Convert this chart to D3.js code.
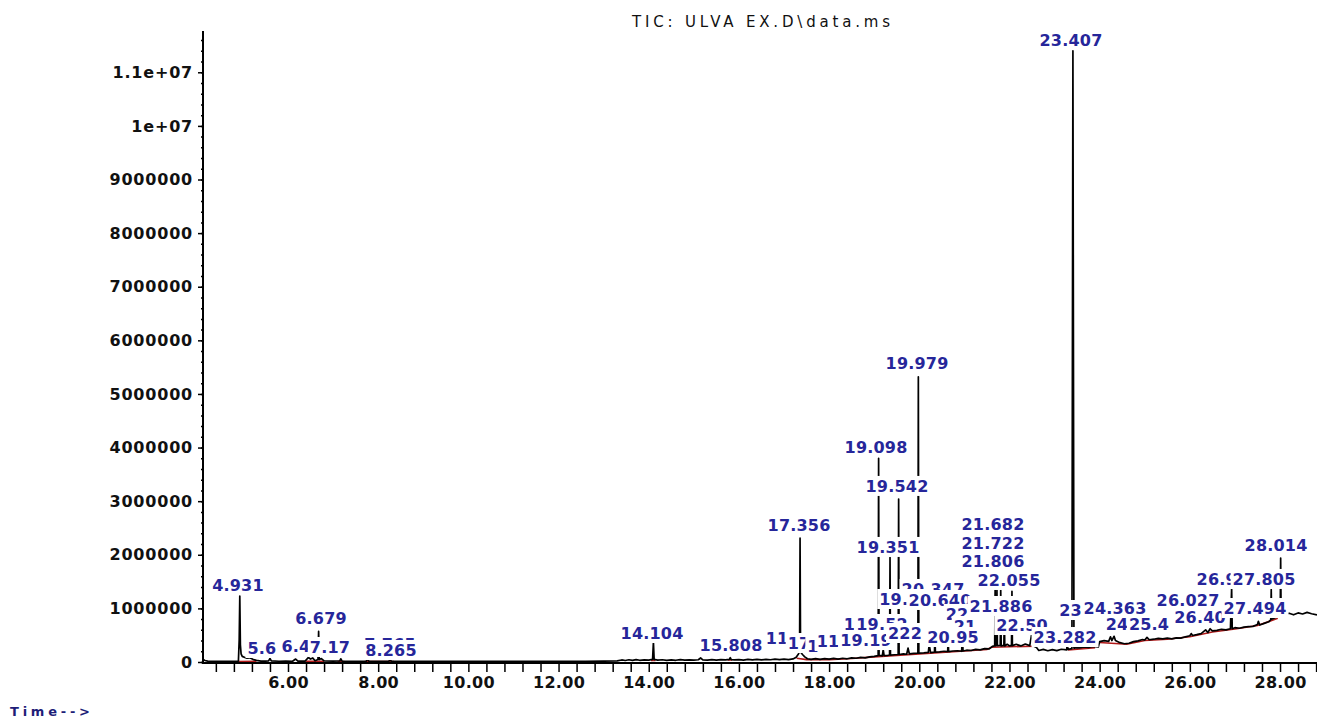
<!DOCTYPE html>
<html><head><meta charset="utf-8">
<script src="https://cdn.jsdelivr.net/npm/d3@7"></script>
<style>body{margin:0;background:#fff}svg{display:block}</style>
</head><body>
<svg id="c" width="1317" height="718"></svg>
<script>
// Chromatogram trace: [retention time (min), abundance (thousand counts)]
const traceK = [[4.12,45],[4.16,28],[4.22,16],[4.35,12],[4.5,10],[4.65,12],[4.8,10],[4.9,14],[4.918,420],[4.931,1230],[4.944,320],[4.96,150],[4.985,105],[5.03,90],[5.09,70],[5.15,78],[5.22,50],[5.3,30],[5.4,18],[5.5,15],[5.57,22],[5.6,65],[5.63,20],[5.8,14],[5.95,16],[6.1,14],[6.17,55],[6.22,15],[6.38,16],[6.45,85],[6.5,55],[6.55,75],[6.6,22],[6.665,45],[6.679,570],[6.692,45],[6.74,65],[6.8,20],[7.0,15],[7.15,20],[7.17,60],[7.2,16],[7.45,12],[7.74,18],[7.76,70],[7.79,15],[8.0,12],[8.24,15],[8.265,58],[8.29,13],[8.6,10],[9.0,13],[9.4,10],[9.8,12],[10.2,10],[10.6,12],[11.0,11],[11.4,13],[11.8,12],[12.2,14],[12.6,13],[13.0,16],[13.3,22],[13.4,38],[13.48,28],[13.56,42],[13.64,30],[13.72,45],[13.8,32],[13.9,40],[14.0,35],[14.085,48],[14.104,370],[14.12,48],[14.2,35],[14.3,42],[14.4,30],[14.5,40],[14.6,32],[14.7,45],[14.8,35],[14.9,40],[15.0,34],[15.1,42],[15.15,75],[15.2,40],[15.3,36],[15.4,44],[15.5,34],[15.6,46],[15.7,38],[15.79,48],[15.808,80],[15.83,45],[15.9,38],[16.0,46],[16.1,36],[16.2,50],[16.3,40],[16.4,48],[16.5,38],[16.6,50],[16.7,42],[16.8,52],[16.9,44],[17.0,55],[17.1,46],[17.2,58],[17.27,90],[17.32,150],[17.345,190],[17.356,2310],[17.367,185],[17.41,140],[17.46,95],[17.52,60],[17.6,48],[17.7,62],[17.8,50],[17.9,64],[18.0,52],[18.1,66],[18.2,55],[18.3,70],[18.4,60],[18.5,78],[18.6,70],[18.7,85],[18.8,78],[18.9,95],[19.0,105],[19.088,120],[19.098,3800],[19.108,125],[19.18,115],[19.2,230],[19.22,120],[19.3,125],[19.341,130],[19.351,1950],[19.361,130],[19.45,135],[19.532,140],[19.542,3040],[19.552,140],[19.65,150],[19.72,145],[19.75,260],[19.78,150],[19.88,160],[19.969,165],[19.979,5320],[19.99,165],[20.1,170],[20.2,180],[20.22,330],[20.25,175],[20.337,185],[20.347,500],[20.357,185],[20.45,190],[20.55,200],[20.63,195],[20.64,480],[20.65,195],[20.75,205],[20.85,210],[20.94,200],[20.955,520],[20.97,205],[21.05,220],[21.15,215],[21.25,235],[21.35,225],[21.45,250],[21.55,245],[21.62,290],[21.672,300],[21.682,1350],[21.692,300],[21.712,310],[21.722,1350],[21.732,305],[21.796,310],[21.806,1350],[21.816,300],[21.876,310],[21.886,880],[21.896,300],[21.95,330],[22.0,300],[22.045,310],[22.055,1320],[22.065,305],[22.15,330],[22.25,300],[22.35,335],[22.45,305],[22.5,560],[22.53,300],[22.6,270],[22.65,215],[22.75,235],[22.85,210],[22.95,232],[23.05,212],[23.15,238],[23.27,225],[23.282,420],[23.295,235],[23.385,250],[23.407,11400],[23.43,260],[23.445,260],[23.455,330],[23.465,265],[23.55,265],[23.65,280],[23.75,270],[23.85,290],[23.97,280],[24.0,380],[24.1,400],[24.2,385],[24.24,470],[24.27,400],[24.32,480],[24.35,400],[24.45,360],[24.55,340],[24.65,350],[24.75,380],[24.85,395],[24.95,420],[25.0,410],[25.05,460],[25.1,415],[25.2,425],[25.3,440],[25.4,430],[25.5,445],[25.6,430],[25.7,450],[25.8,445],[25.9,470],[26.0,490],[26.03,530],[26.06,495],[26.15,510],[26.25,530],[26.35,600],[26.4,550],[26.45,620],[26.5,580],[26.6,590],[26.7,610],[26.8,600],[26.9,620],[26.927,1380],[26.94,620],[27.0,640],[27.1,630],[27.2,650],[27.3,660],[27.4,665],[27.5,700],[27.52,760],[27.55,690],[27.65,720],[27.75,750],[27.795,790],[27.805,1350],[27.815,800],[27.9,830],[28.004,860],[28.014,1940],[28.024,870],[28.1,890],[28.2,910],[28.3,880],[28.4,915],[28.5,895],[28.6,925],[28.7,900],[28.82,880]];

// Integration baseline segments (red), null = gap
const baselineK = [[4.9,10],[5.3,15],null,[6.4,12],[6.8,12],null,[7.1,10],[7.25,10],null,[7.7,10],[8.35,10],null,[14.05,28],[14.15,28],null,[15.75,38],[15.85,38],null,[17.28,70],[17.5,45],[18.0,45],[18.5,65],[19.0,95],[19.5,120],[20.0,150],[20.5,180],[21.0,205],[21.5,235],[21.6,275],[22.0,285],[22.55,295],null,[23.3,225],[23.9,268],null,[24.0,365],[24.6,330],[25.0,400],[25.5,425],[26.0,470],[26.5,560],[27.0,615],[27.5,680],[27.95,815]];

// Peak retention-time labels: text, centre time (min), level (thousand counts)
const labelText  = ["4.931","5.6","6.4","7.17","6.679","7.765","8.265","14.104","15.808","11","17","1","11","17.356","19.098","19.542","19.351","19.979","20.347","19.72","20.640","19","19.52","22","21","19.19","222","20.95","21.682","21.722","21.806","22.055","21.886","22.50","23.282","23.45","24.363","24","25.4","26.027","26.40","27.494","26.927","27.805","28.014","23.407"];
const labelTime  = [4.891,5.423,6.177,6.931,6.732,8.262,8.284,14.073,15.825,16.845,17.333,17.643,17.976,17.333,19.041,19.506,19.307,19.950,20.305,19.684,20.460,18.575,19.174,20.837,21.014,18.819,19.684,20.748,21.635,21.635,21.635,21.990,21.813,22.279,23.232,23.676,24.341,24.385,25.095,25.960,26.226,27.446,26.847,27.646,27.912,23.365];
const labelLevel = [1437,261,299,280,821,336,224,541,317,448,354,299,392,2556,4011,3284,2146,5578,1362,1175,1157,709,709,896,672,410,541,466,2575,2220,1884,1530,1045,690,466,970,1007,709,709,1157,840,1007,1549,1549,2183,11605];

const yTickValues = [0,1000000,2000000,3000000,4000000,5000000,6000000,7000000,8000000,9000000,10000000,11000000];
const yTickLabels = ["0","1000000","2000000","3000000","4000000","5000000","6000000","7000000","8000000","9000000","1e+07","1.1e+07"];
const xTickValues = [6,8,10,12,14,16,18,20,22,24,26,28];
const xTickLabels = ["6.00","8.00","10.00","12.00","14.00","16.00","18.00","20.00","22.00","24.00","26.00","28.00"];

const titleText = "TIC: ULVA EX.D\\data.ms";
const xAxisText = "Time-->";

const svg = d3.select("#c");
const x = d3.scaleLinear().domain([4.115, 28.82]).range([203, 1317]);
const y = d3.scaleLinear().domain([0, 11770000]).range([662, 31]);

// trace layers
const line = d3.line().defined(d => d).x(d => x(d[0])).y(d => y(d[1] * 1000));
svg.append("path").datum(baselineK).attr("d", line)
  .attr("fill","none").attr("stroke","#b01818").attr("stroke-width",1.6);
svg.append("path").datum(traceK).attr("d", line)
  .attr("fill","none").attr("stroke","#000").attr("stroke-width",1.7).attr("stroke-linejoin","round");

// axes
const minorY = d3.range(0, 11700000, 200000);
const gyMinor = svg.append("g").attr("transform","translate(203,0)")
  .call(d3.axisLeft(y).tickValues(minorY).tickSize(2).tickFormat(""));
const gy = svg.append("g").attr("transform","translate(203,0)")
  .call(d3.axisLeft(y).tickValues(yTickValues).tickSize(5).tickPadding(5)
    .tickFormat((d,i) => yTickLabels[i]));
const minorX = d3.range(4.4, 28.81, 0.4);
const gxMinor = svg.append("g").attr("transform","translate(0,663)")
  .call(d3.axisBottom(x).tickValues(minorX).tickSize(9).tickFormat(""));
const gx = svg.append("g").attr("transform","translate(0,663)")
  .call(d3.axisBottom(x).tickValues(xTickValues).tickSize(0).tickPadding(14)
    .tickFormat((d,i) => xTickLabels[i]));
[gyMinor, gy, gxMinor, gx].forEach(g => {
  g.select(".domain").remove();
  g.selectAll("line").attr("stroke","#000").attr("stroke-width",1.5);
});
[gy, gx].forEach(g => g.selectAll("text")
  .attr("font-family","DejaVu Sans").attr("font-size",16).attr("font-weight","bold")
  .attr("fill","#111").style("letter-spacing","0.8px"));
gx.selectAll("text").style("letter-spacing","0.3px");

svg.append("line").attr("x1",203).attr("x2",203).attr("y1",y.range()[1]).attr("y2",664)
  .attr("stroke","#000").attr("stroke-width",2);
svg.append("line").attr("x1",202).attr("x2",1317).attr("y1",663).attr("y2",663)
  .attr("stroke","#000").attr("stroke-width",2);

// peak labels with white background boxes
const lab = svg.append("g");
labelText.forEach((t, i) => {
  const cx = x(labelTime[i]), cy = y(labelLevel[i] * 1000);
  const g = lab.append("g");
  const r = g.append("rect").attr("fill","#fff");
  const tx = g.append("text").attr("x", cx).attr("y", cy + 6)
    .attr("text-anchor","middle").attr("font-family","DejaVu Sans")
    .attr("font-size",16).attr("font-weight","bold").attr("fill","#26269a")
    .style("letter-spacing","0.2px").text(t);
  const w = tx.node().getComputedTextLength();
  r.attr("x", cx - w / 2 - 2).attr("y", cy - 10).attr("width", w + 4).attr("height", 20);
});

// title and axis caption
svg.append("text").attr("x",761).attr("y",27).attr("text-anchor","middle")
  .attr("font-family","DejaVu Sans").attr("font-size",15).attr("fill","#111")
  .attr("textLength",258).attr("lengthAdjust","spacing").text(titleText);
svg.append("text").attr("x",10).attr("y",716)
  .attr("font-family","DejaVu Sans").attr("font-size",13).attr("font-weight","bold").attr("fill","#1e1e78")
  .attr("textLength",80).attr("lengthAdjust","spacing").text(xAxisText);
</script>
</body></html>
